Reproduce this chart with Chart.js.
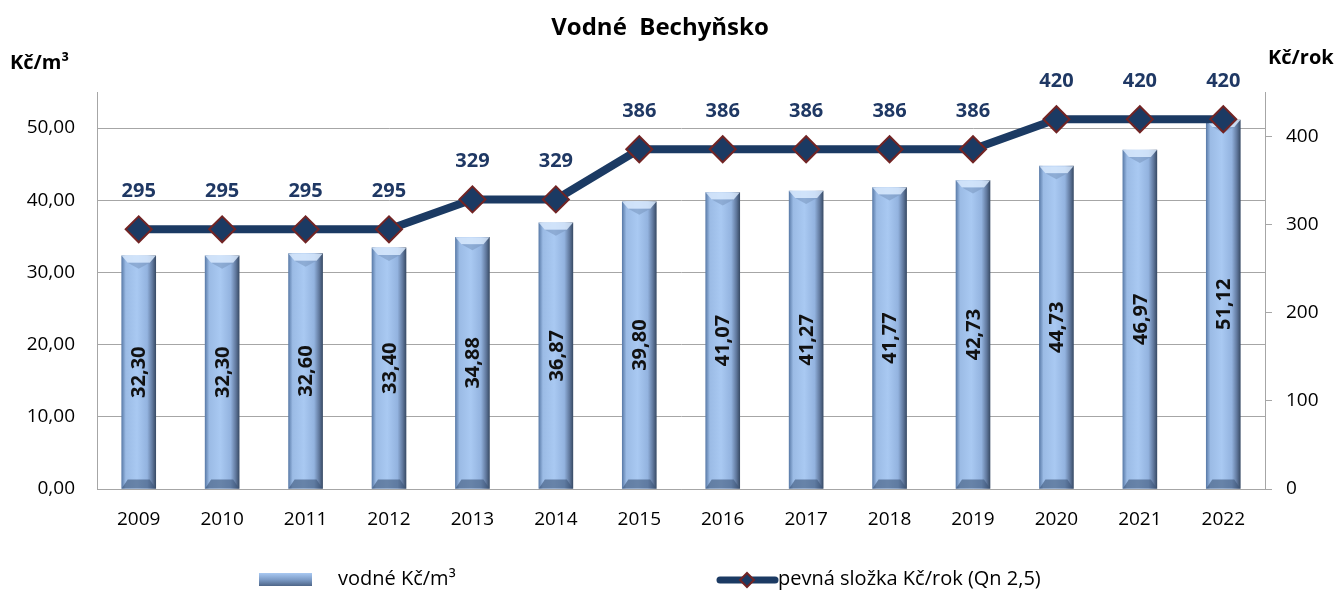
<!DOCTYPE html>
<html>
<head>
<meta charset="utf-8">
<script src="https://cdn.jsdelivr.net/npm/chart.js@4/dist/chart.umd.min.js"></script>
<style>
	html, body { margin: 0; padding: 0; background: #fff; }
	#wrap { width: 1338px; height: 590px; position: relative; }
</style>
</head>
<body>
<div id="wrap"><canvas id="chart"></canvas></div>
<script>
const years = ["2009", "2010", "2011", "2012", "2013", "2014", "2015", "2016", "2017", "2018", "2019", "2020", "2021", "2022"];
const vodne = [32.30, 32.30, 32.60, 33.40, 34.88, 36.87, 39.80, 41.07, 41.27, 41.77, 42.73, 44.73, 46.97, 51.12];
const pevna = [295, 295, 295, 295, 329, 329, 386, 386, 386, 386, 386, 420, 420, 420];
const leftTicks = [0, 10, 20, 30, 40, 50];
const rightTicks = [0, 100, 200, 300, 400];

const FONT = "'Open Sans', 'Noto Sans', sans-serif";
const NAVY = "#1B3A63";
const LABEL_NAVY = "#1F3864";
const GRID = "#A6A6A6";
const BAR_W = 34;

const fmt = v => v.toFixed(2).replace(".", ",");

function barGradient(c) {
	const x = c.chart.scales.x ? c.chart.scales.x.getPixelForValue(c.dataIndex) : NaN;
	if (!isFinite(x)) return "#9BBBE5";
	const g = c.chart.ctx.createLinearGradient(x - BAR_W / 2, 0, x + BAR_W / 2, 0);
	g.addColorStop(0, "#5C7DAA");
	g.addColorStop(0.12, "#9BBBE5");
	g.addColorStop(0.45, "#A9C9F2");
	g.addColorStop(0.75, "#93B3DF");
	g.addColorStop(0.9, "#61799E");
	g.addColorStop(1, "#3A4D68");
	return g;
}

// bevel effect, labels, titles and legend
const decor = {
	id: "decor",
	afterDatasetDraw(chart, args) {
		if (args.index !== 1) return;
		const ctx = chart.ctx;
		chart.getDatasetMeta(1).data.forEach(bar => {
			const l = bar.x - BAR_W / 2, r = bar.x + BAR_W / 2;
			const t = bar.y, b = bar.base;
			ctx.save();
			ctx.fillStyle = "rgba(215,232,252,0.85)";
			ctx.beginPath();
			ctx.moveTo(l, t); ctx.lineTo(r, t); ctx.lineTo(r - 6, t + 7); ctx.lineTo(l + 6, t + 7);
			ctx.closePath(); ctx.fill();
			ctx.fillStyle = "rgba(120,150,190,0.55)";
			ctx.beginPath();
			ctx.moveTo(l + 6, t + 7); ctx.lineTo(bar.x, t + 13); ctx.lineTo(r - 6, t + 7);
			ctx.closePath(); ctx.fill();
			ctx.fillStyle = "rgba(60,85,120,0.6)";
			ctx.beginPath();
			ctx.moveTo(l, b); ctx.lineTo(r, b); ctx.lineTo(r - 6, b - 9); ctx.lineTo(l + 6, b - 9);
			ctx.closePath(); ctx.fill();
			ctx.restore();
		});
	},
	afterDatasetsDraw(chart) {
		const ctx = chart.ctx;
		ctx.save();
		ctx.textAlign = "center";
		ctx.textBaseline = "middle";
		// bar values, rotated
		ctx.fillStyle = "#111";
		ctx.font = "bold 20px " + FONT;
		chart.getDatasetMeta(1).data.forEach((bar, i) => {
			ctx.save();
			ctx.translate(bar.x + 1, (bar.y + bar.base) / 2);
			ctx.rotate(-Math.PI / 2);
			ctx.fillText(fmt(vodne[i]), 0, 0);
			ctx.restore();
		});
		// line values
		ctx.fillStyle = LABEL_NAVY;
		ctx.font = "bold 20px " + FONT;
		chart.getDatasetMeta(0).data.forEach((pt, i) => {
			ctx.fillText(String(pevna[i]), pt.x, pt.y - 38);
		});
		ctx.restore();
	},
	afterDraw(chart) {
		const ctx = chart.ctx;
		ctx.save();
		ctx.fillStyle = "#000";
		ctx.textBaseline = "middle";
		ctx.textAlign = "center";
		ctx.font = "bold 24px " + FONT;
		ctx.fillText("Vodné  Bechyňsko", 660, 28);
		ctx.textAlign = "left";
		ctx.font = "bold 20px " + FONT;
		ctx.fillText("Kč/m³", 10, 63);
		ctx.fillText("Kč/rok", 1268, 58);

		// legend
		const sw = ctx.createLinearGradient(0, 573, 0, 586);
		sw.addColorStop(0, "#A9C9F2");
		sw.addColorStop(0.5, "#7E9DC8");
		sw.addColorStop(1, "#4E6688");
		ctx.fillStyle = sw;
		ctx.fillRect(259, 573, 53, 13);
		ctx.fillStyle = "#000";
		ctx.font = "20px " + FONT;
		ctx.fillText("vodné Kč/m³", 338, 579);

		ctx.strokeStyle = NAVY;
		ctx.lineWidth = 7;
		ctx.lineCap = "round";
		ctx.beginPath();
		ctx.moveTo(720, 580); ctx.lineTo(775, 580);
		ctx.stroke();
		ctx.fillStyle = NAVY;
		ctx.strokeStyle = "#722424";
		ctx.lineWidth = 2;
		ctx.beginPath();
		ctx.moveTo(747, 573); ctx.lineTo(754, 580); ctx.lineTo(747, 587); ctx.lineTo(740, 580);
		ctx.closePath(); ctx.fill(); ctx.stroke();
		ctx.fillStyle = "#000";
		ctx.fillText("pevná složka Kč/rok (Qn 2,5)", 778, 579);
		ctx.restore();
	}
};

const keepTicks = list => scale => {
	scale.ticks = list.map(v => ({ value: v }));
};

new Chart(document.getElementById("chart"), {
	data: {
		labels: years,
		datasets: [{
			type: "line",
			label: "pevná složka Kč/rok (Qn 2,5)",
			data: pevna,
			yAxisID: "y1",
			order: 0,
			borderColor: NAVY,
			borderWidth: 8,
			tension: 0,
			pointStyle: "rectRot",
			pointRadius: 13,
			pointHoverRadius: 13,
			pointBackgroundColor: NAVY,
			pointBorderColor: "#722424",
			pointBorderWidth: 2
		}, {
			type: "bar",
			label: "vodné Kč/m³",
			data: vodne,
			yAxisID: "y",
			order: 1,
			barThickness: BAR_W,
			backgroundColor: barGradient
		}]
	},
	options: {
		responsive: true,
		maintainAspectRatio: false,
		animation: false,
		layout: { padding: { top: 92, left: 0, right: 0, bottom: 0 } },
		plugins: {
			legend: { display: false },
			title: { display: false },
			tooltip: { enabled: false }
		},
		scales: {
			x: {
				grid: { display: false, drawTicks: false },
				border: { display: true, color: GRID, width: 1 },
				ticks: { color: "#000", font: { family: FONT, size: 19 }, padding: 19 },
				afterFit: s => { s.height = 101; }
			},
			y: {
				position: "left",
				min: 0,
				max: 55,
				afterBuildTicks: keepTicks(leftTicks),
				grid: { color: GRID, lineWidth: 1, drawTicks: false },
				border: { display: true, color: GRID, width: 1 },
				ticks: { color: "#000", font: { family: FONT, size: 19 }, padding: 22, callback: v => fmt(v) },
				afterFit: s => { s.width = 97; }
			},
			y1: {
				position: "right",
				min: 0,
				max: 451,
				afterBuildTicks: keepTicks(rightTicks),
				grid: { drawOnChartArea: false, drawTicks: true, tickLength: 7, color: GRID },
				border: { display: true, color: GRID, width: 1 },
				ticks: { color: "#000", font: { family: FONT, size: 19 }, padding: 14 },
				afterFit: s => { s.width = 73; }
			}
		}
	},
	plugins: [decor]
});
</script>
</body>
</html>
